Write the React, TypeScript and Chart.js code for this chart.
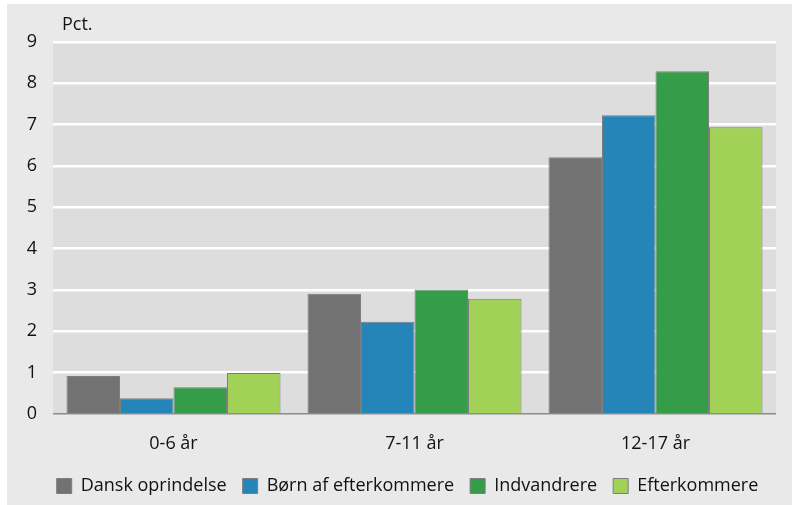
import React, { useEffect, useRef } from "react";
import { Chart, registerables } from "chart.js";

Chart.register(...registerables);

const categories = ["0-6 år", "7-11 år", "12-17 år"];
const yTicks = [0, 1, 2, 3, 4, 5, 6, 7, 8, 9];
const seriesNames = ["Dansk oprindelse", "Børn af efterkommere", "Indvandrere", "Efterkommere"];
const danskOprindelse = [0.92, 2.91, 6.21];
const bornAfEfterkommere = [0.38, 2.23, 7.23];
const indvandrere = [0.65, 3.01, 8.29];
const efterkommere = [0.99, 2.79, 6.94];
const seriesColors = ["#727272", "#2584b8", "#359c48", "#a1d156"];
const unitLabel = "Pct.";

const FONT = "'Open Sans', 'Noto Sans', sans-serif";

const bgPlugin = {
  id: "plotBg",
  afterLayout(chart: any) {
    const lg = chart.legend;
    if (lg) {
      lg.left += 16;
      lg.right += 16;
    }
  },
  beforeDraw(chart: any) {
    const { ctx, chartArea } = chart;
    ctx.save();
    ctx.fillStyle = "#dddddd";
    ctx.fillRect(chartArea.left, chartArea.top, chartArea.right - chartArea.left, chartArea.bottom - chartArea.top);
    ctx.restore();
  },
  afterDraw(chart: any) {
    const { ctx, chartArea } = chart;
    ctx.save();
    ctx.fillStyle = "#111";
    ctx.font = `18px ${FONT}`;
    ctx.textBaseline = "alphabetic";
    ctx.textAlign = "left";
    ctx.fillText(unitLabel, chartArea.left + 9, chartArea.top - 12);
    ctx.restore();
  },
};

export default function App() {
  const ref = useRef<HTMLCanvasElement | null>(null);

  useEffect(() => {
    document.body.style.margin = "0";
    const values = [danskOprindelse, bornAfEfterkommere, indvandrere, efterkommere];
    const chart = new Chart(ref.current as HTMLCanvasElement, {
      type: "bar",
      data: {
        labels: categories,
        datasets: seriesNames.map((name, i) => ({
          label: name,
          data: values[i],
          backgroundColor: seriesColors[i],
          borderColor: "#7d7d7d",
          borderWidth: 1,
          barPercentage: 1,
          categoryPercentage: 0.888,
        })),
      },
      options: {
        responsive: false,
        animation: false,
        devicePixelRatio: 1,
        layout: { padding: { top: 38, right: 16, left: 0, bottom: 0 } },
        plugins: {
          legend: {
            position: "bottom",
            labels: {
              boxWidth: 15,
              boxHeight: 15,
              padding: 16,
              color: "#111",
              font: { family: FONT, size: 18 },
            },
          },
          tooltip: { enabled: false },
        },
        scales: {
          x: {
            afterFit(scale: any) {
              scale.height = 47;
            },
            grid: { display: false, drawTicks: false },
            border: { display: false },
            ticks: { color: "#111", font: { family: FONT, size: 18 }, padding: 19 },
          },
          y: {
            min: 0,
            max: 9,
            afterFit(scale: any) {
              scale.width = 46;
            },
            afterBuildTicks(scale: any) {
              scale.ticks = yTicks.map((v) => ({ value: v }));
            },
            grid: {
              drawTicks: false,
              color: (c: any) => (c.tick && c.tick.value === 0 ? "#8c8c8c" : "#ffffff"),
              lineWidth: (c: any) => (c.tick && c.tick.value === 0 ? 1.5 : 2.5),
            },
            border: { display: false },
            ticks: { color: "#111", font: { family: FONT, size: 18 }, padding: 16, stepSize: 1 },
          },
        },
      },
      plugins: [bgPlugin],
    });
    return () => chart.destroy();
  }, []);

  return (
    <div style={{ width: 795, height: 505, background: "#ffffff", position: "relative" }}>
      <div style={{ position: "absolute", left: 7, top: 4, width: 785, height: 501, background: "#e9e9e9" }}>
        <canvas ref={ref} width={785} height={501} style={{ display: "block" }} />
      </div>
    </div>
  );
}
